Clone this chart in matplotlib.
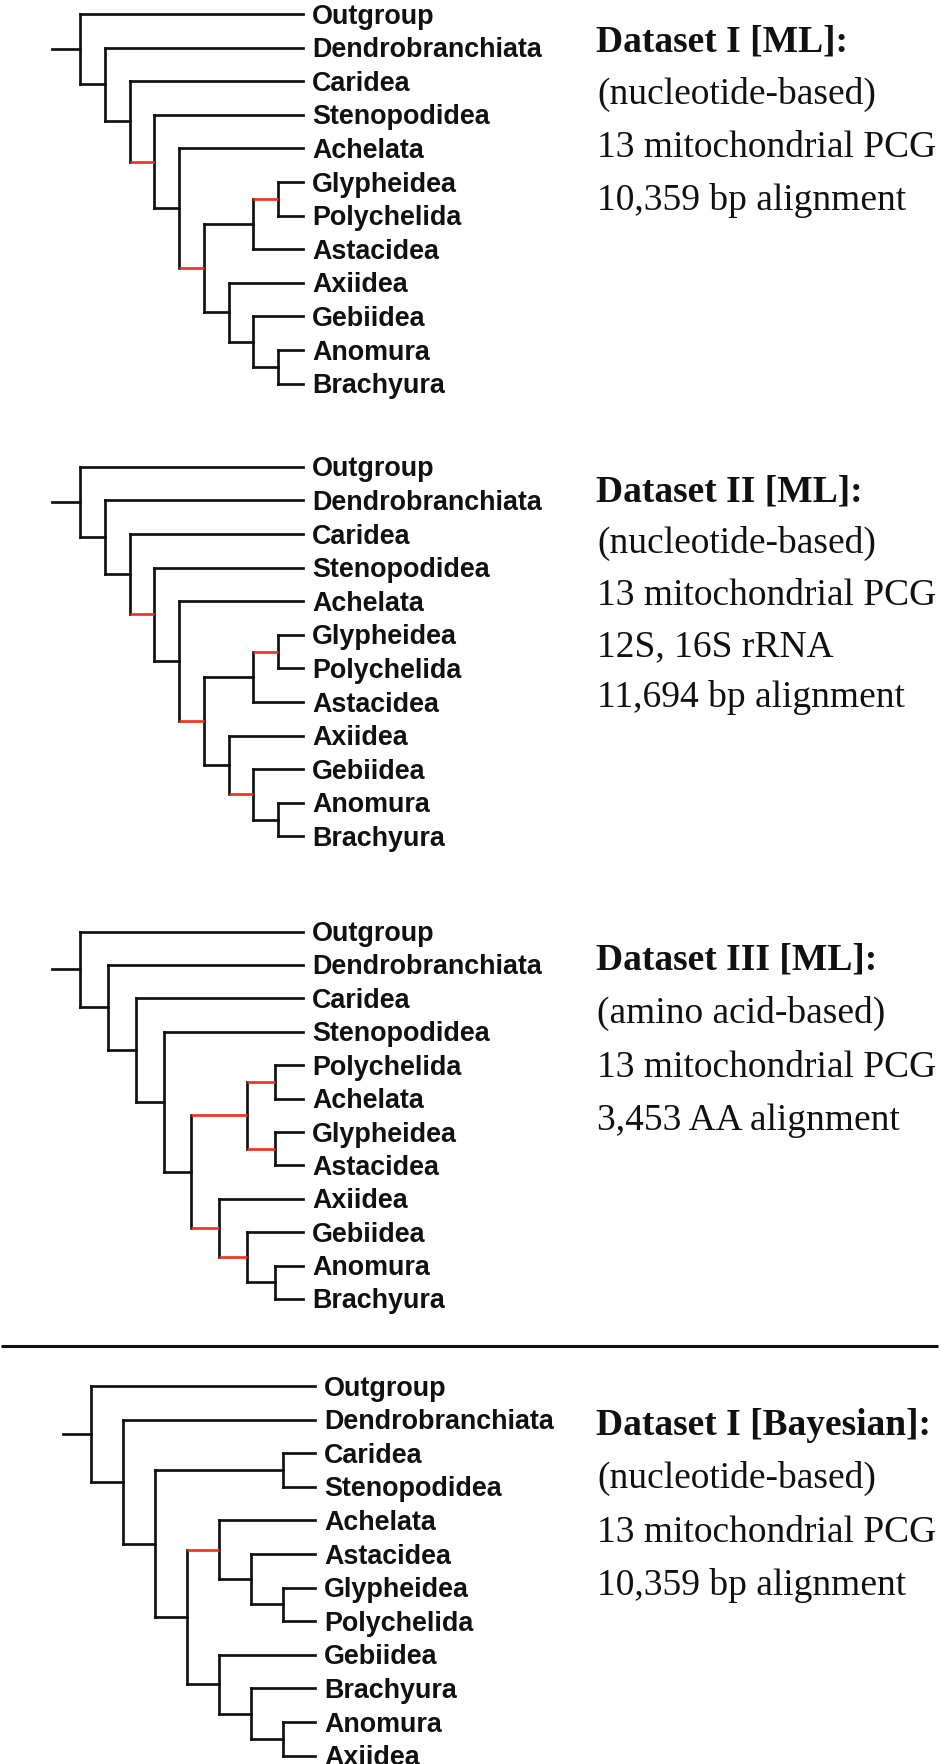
import matplotlib
matplotlib.use("Agg")
import matplotlib.pyplot as plt
from matplotlib.collections import LineCollection

# 트리 토폴로지 (nested tuple)
tree_ml_nt = ("Outgroup", ("Dendrobranchiata", ("Caridea", ("Stenopodidea", ("Achelata",
              ((("Glypheidea", "Polychelida"), "Astacidea"),
               ("Axiidea", ("Gebiidea", ("Anomura", "Brachyura")))))))))
tree_ml_aa = ("Outgroup", ("Dendrobranchiata", ("Caridea", ("Stenopodidea",
              ((("Polychelida", "Achelata"), ("Glypheidea", "Astacidea")),
               ("Axiidea", ("Gebiidea", ("Anomura", "Brachyura"))))))))
tree_bayes = ("Outgroup", ("Dendrobranchiata", (("Caridea", "Stenopodidea"),
              (("Achelata", ("Astacidea", ("Glypheidea", "Polychelida"))),
               ("Gebiidea", ("Brachyura", ("Anomura", "Axiidea")))))))

# 빨간색으로 표시된 가지 (해당 clade 의 줄기)
red_ds1 = [
    ["Stenopodidea", "Achelata", "Glypheidea", "Polychelida", "Astacidea",
     "Axiidea", "Gebiidea", "Anomura", "Brachyura"],
    ["Glypheidea", "Polychelida"],
    ["Glypheidea", "Polychelida", "Astacidea", "Axiidea", "Gebiidea", "Anomura", "Brachyura"],
]
red_ds2 = red_ds1 + [["Gebiidea", "Anomura", "Brachyura"]]
red_ds3 = [
    ["Polychelida", "Achelata"],
    ["Glypheidea", "Astacidea"],
    ["Polychelida", "Achelata", "Glypheidea", "Astacidea"],
    ["Axiidea", "Gebiidea", "Anomura", "Brachyura"],
    ["Gebiidea", "Anomura", "Brachyura"],
]
red_bayes = [["Achelata", "Astacidea", "Glypheidea", "Polychelida"]]

titles = ["Dataset I [ML]:", "Dataset II [ML]:", "Dataset III [ML]:", "Dataset I [Bayesian]:"]
notes = [
    ["(nucleotide-based)", "13 mitochondrial PCG", "10,359 bp alignment"],
    ["(nucleotide-based)", "13 mitochondrial PCG", "12S, 16S rRNA", "11,694 bp alignment"],
    ["(amino acid-based)", "13 mitochondrial PCG", "3,453 AA alignment"],
    ["(nucleotide-based)", "13 mitochondrial PCG", "10,359 bp alignment"],
]

BLACK = "#111111"
RED = "#f2331f"
SANS = ["Liberation Sans", "DejaVu Sans"]
SERIF = ["Liberation Serif", "DejaVu Serif"]
LW = 1.95


def leaves(node):
    if isinstance(node, str):
        return [node]
    out = []
    for c in node:
        out += leaves(c)
    return out


def height(node):
    if isinstance(node, str):
        return 0
    return 1 + max(height(c) for c in node)


def draw_tree(ax, tree, red, top, spacing, leaf_x, root_x, stem=28):
    order = leaves(tree)
    leaf_y = {name: top + i * spacing for i, name in enumerate(order)}
    step = (leaf_x - root_x) / height(tree)
    red_sets = [frozenset(r) for r in red]
    black_segs, red_segs = [], []

    def layout(node):
        if isinstance(node, str):
            return leaf_x, leaf_y[node]
        x = leaf_x - step * height(node)
        pts = [layout(c) for c in node]
        ys = [p[1] for p in pts]
        black_segs.append([(x, min(ys)), (x, max(ys))])
        for c, (cx, cy) in zip(node, pts):
            seg = [(x, cy), (cx, cy)]
            if frozenset(leaves(c)) in red_sets:
                red_segs.append(seg)
            else:
                black_segs.append(seg)
        return x, (ys[0] + ys[-1]) / 2

    rx, ry = layout(tree)
    black_segs.append([(rx - stem, ry), (rx, ry)])

    ax.add_collection(LineCollection(black_segs, colors=BLACK, linewidths=LW,
                                     capstyle="projecting", zorder=2))
    ax.add_collection(LineCollection(red_segs, colors=RED, linewidths=LW,
                                     capstyle="butt", zorder=3))

    for name in order:
        ax.text(leaf_x + 9, leaf_y[name] + 9.6, name, family=SANS, weight="bold",
                fontsize=19.4, va="baseline", ha="left", color=BLACK)


def draw_note(ax, x, base, gap, title, lines):
    ax.text(x, base, title, family=SERIF, weight="bold", fontsize=27,
            va="baseline", ha="left", color=BLACK)
    for i, line in enumerate(lines):
        ax.text(x + 1, base + gap * (i + 1), line, family=SERIF, fontsize=27,
                va="baseline", ha="left", color=BLACK)


fig = plt.figure(figsize=(9.41, 17.64), dpi=100)
ax = fig.add_axes([0, 0, 1, 1])
ax.set_xlim(0, 941)
ax.set_ylim(1764, 0)
ax.axis("off")

draw_tree(ax, tree_ml_nt, red_ds1, top=14, spacing=33.6, leaf_x=303, root_x=80)
draw_tree(ax, tree_ml_nt, red_ds2, top=466.7, spacing=33.6, leaf_x=303, root_x=80)
draw_tree(ax, tree_ml_aa, red_ds3, top=931.5, spacing=33.4, leaf_x=303, root_x=80)
draw_tree(ax, tree_bayes, red_bayes, top=1386, spacing=33.6, leaf_x=315, root_x=91)

draw_note(ax, 596, 51, 53, titles[0], notes[0])
draw_note(ax, 596, 502, 51.3, titles[1], notes[1])
draw_note(ax, 596, 970, 53.3, titles[2], notes[2])
draw_note(ax, 596, 1435, 53.3, titles[3], notes[3])

# 구분선
ax.plot([1, 938], [1346, 1346], color=BLACK, linewidth=2.2, solid_capstyle="butt")

plt.savefig("out.png", dpi=100)
